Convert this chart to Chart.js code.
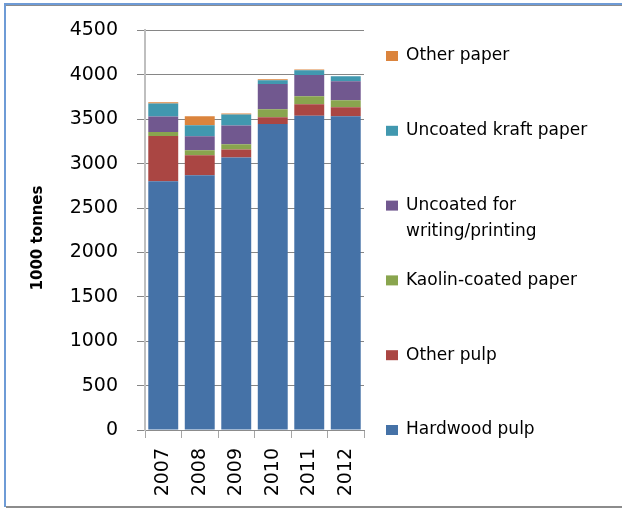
<!DOCTYPE html>
<html>
<head>
<meta charset="utf-8">
<script src="https://cdn.jsdelivr.net/npm/chart.js@4/dist/chart.umd.min.js"></script>
<style>
  html, body { margin:0; padding:0; background:#fff; overflow:hidden; }
  #chart { display:block; }
</style>
</head>
<body>
<canvas id="chart" width="622" height="508"></canvas>
<script>
// ── DATA (1000 tonnes) ────────────────────────────────
var YEARS            = ['2007','2008','2009','2010','2011','2012'];
var HARDWOOD_PULP    = [2800, 2868, 3070, 3446, 3540, 3532];
var OTHER_PULP       = [ 510,  226,   90,   75,  128,  102];
var KAOLIN_COATED    = [  45,   56,   57,   90,   90,   79];
var UNCOATED_WRITING = [ 175,  157,  213,  285,  240,  213];
var UNCOATED_KRAFT   = [ 147,  124,  124,   42,   52,   57];
var OTHER_PAPER      = [  14,  101,   11,   11,   11,    0];

var SERIES_NAMES  = ['Hardwood pulp', 'Other pulp', 'Kaolin-coated paper',
                     ['Uncoated for', 'writing/printing'], 'Uncoated kraft paper', 'Other paper'];
var SERIES_COLORS = ['#4572A7', '#AA4643', '#89A54E', '#71588F', '#4198AF', '#DB843D'];
var SERIES_DATA   = [HARDWOOD_PULP, OTHER_PULP, KAOLIN_COATED, UNCOATED_WRITING, UNCOATED_KRAFT, OTHER_PAPER];

var Y_TITLE = '1000 tonnes';
var FONT = 'DejaVu Sans';

// ── frame, y title and right-hand legend ─────────────
var decor = {
  id: 'decor',
  beforeDraw: function (chart) {
    var ctx = chart.ctx;
    ctx.save();
    ctx.fillStyle = '#fff';
    ctx.fillRect(0, 0, chart.width, chart.height);
    ctx.fillStyle = '#6E9BD6';
    ctx.fillRect(4, 3, chart.width - 4, 2);   // top
    ctx.fillRect(4, 3, 2, 504);                // left
    ctx.fillStyle = '#8C8C8C';
    ctx.fillRect(6, 5, chart.width - 6, 1);
    ctx.fillRect(6, 506, chart.width - 6, 2);  // bottom
    ctx.restore();
  },
  afterDraw: function (chart) {
    var ctx = chart.ctx;
    var ds  = chart.data.datasets;
    ctx.save();
    // y title
    ctx.translate(38, 238);
    ctx.rotate(-Math.PI / 2);
    ctx.font = 'bold 15px "' + FONT + '"';
    ctx.textAlign = 'center';
    ctx.textBaseline = 'middle';
    ctx.fillStyle = '#000';
    ctx.fillText(Y_TITLE, 0, 0);
    ctx.restore();

    ctx.save();
    ctx.font = '17px "' + FONT + '"';
    ctx.textBaseline = 'middle';
    for (var i = 0; i < ds.length; i++) {
      var d  = ds[ds.length - 1 - i];
      var cy = 56 + i * 74.8;
      ctx.fillStyle = d.backgroundColor;
      ctx.fillRect(386, cy - 5, 12, 10);
      ctx.fillStyle = '#000';
      var lines = [].concat(d.legendText);
      for (var j = 0; j < lines.length; j++) ctx.fillText(lines[j], 406, cy + j * 25.5);
    }
    ctx.restore();
  }
};

var datasets = SERIES_DATA.map(function (arr, i) {
  return {
    label:           [].concat(SERIES_NAMES[i]).join(' '),
    legendText:      SERIES_NAMES[i],
    data:            arr,
    backgroundColor: SERIES_COLORS[i],
    borderWidth:     0,
    barPercentage:   0.82,
    categoryPercentage: 1.0,
  };
});

new Chart(document.getElementById('chart'), {
  type: 'bar',
  data: { labels: YEARS, datasets: datasets },
  plugins: [decor],
  options: {
    responsive: false,
    animation:  false,
    layout: { padding: { left:10, right:258, top:30, bottom:8 } },
    plugins: { legend: { display:false }, tooltip: { enabled:false } },
    scales: {
      x: {
        stacked: true,
        afterFit: function (s) { s.height = 70; },
        grid:   { drawOnChartArea:false, color:'#A6A6A6', tickLength:8, lineWidth:1 },
        border: { color:'#8C8C8C', width:1 },
        ticks:  { minRotation:90, maxRotation:90, padding:10, autoSkip:false,
                  font:{ family:FONT, size:19 }, color:'#000' },
      },
      y: {
        stacked: true,
        min: 0, max: 4500,
        afterFit: function (s) { s.width = 135; },
        grid:   { color:'#868686', tickLength:8, lineWidth:1 },
        border: { color:'#BFBFBF', width:2 },
        ticks:  { stepSize:500, padding:19, font:{ family:FONT, size:19 }, color:'#000',
                  callback: function (v) { return String(v); } },
      },
    },
  },
});
</script>
</body>
</html>
